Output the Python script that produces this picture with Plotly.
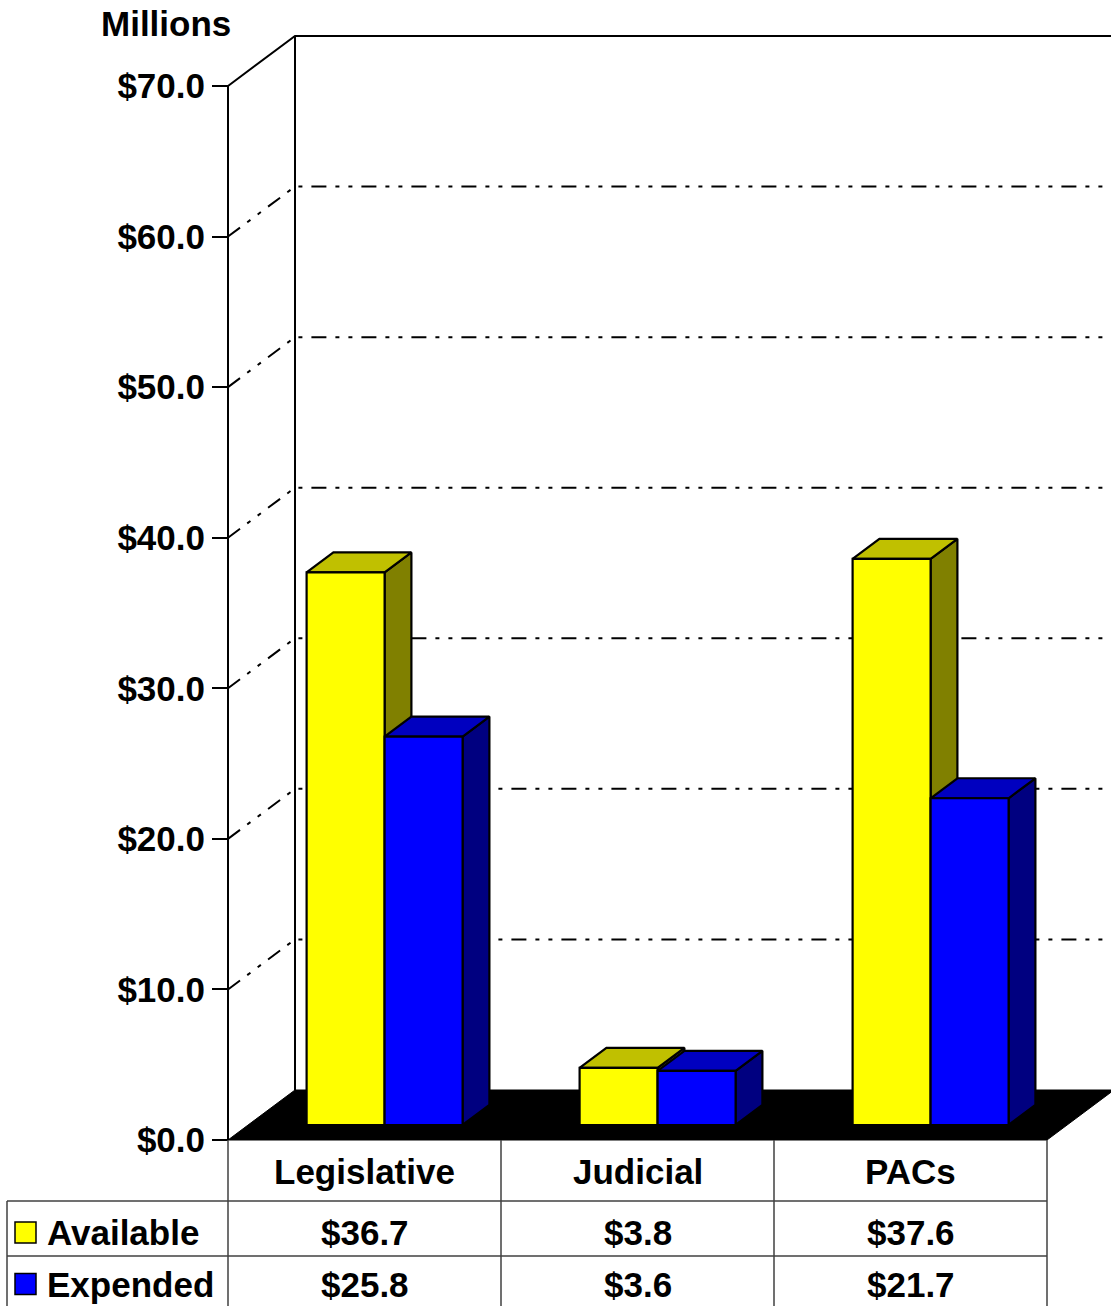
import plotly.graph_objects as go

# ---------------- data ----------------
categories = ["Legislative", "Judicial", "PACs"]
available = [36.7, 3.8, 37.6]
expended = [25.8, 3.6, 21.7]
series_names = ["Available", "Expended"]
y_tick_vals = [0, 10, 20, 30, 40, 50, 60, 70]
y_tick_text = ["$0.0", "$10.0", "$20.0", "$30.0", "$40.0", "$50.0", "$60.0", "$70.0"]
y_unit_label = "Millions"

# ---------------- styling / layout constants ----------------
W, H = 1111, 1306
FONT = "Liberation Sans, Arial, sans-serif"
front_colors = ["#FFFF00", "#0000FF"]
top_colors = ["#C0C000", "#0000C0"]
side_colors = ["#808000", "#000080"]

X0_PX, Y0_PX = 228, 1140          # pixel of (x=0, y=0) front corner
ML = 200                           # left margin (plot area starts here)
PX_PER_CAT = 273.0                 # pixels per category slot
PX_PER_UNIT = (1140 - 86) / 70.0   # pixels per $1M
DEPTH_PX = (67, 50)                # 3D depth offset in pixels (right, up)


def xd(px):
    return (px - X0_PX) / PX_PER_CAT


def yd(py):
    return (Y0_PX - py) / PX_PER_UNIT


def xp(px):  # paper x
    return (px - ML) / (W - ML)


DX = DEPTH_PX[0] / PX_PER_CAT
DY = DEPTH_PX[1] / PX_PER_UNIT
XMIN, XMAX = xd(ML), xd(W)
YMIN, YMAX = yd(H), yd(0)
BAR_W = 78 / PX_PER_CAT
Z0, Z1 = 0.3, 0.7   # bar depth span (fraction of floor depth)

fig = go.Figure()


def poly(xs, ys, fill, lw=2.2, color="black"):
    fig.add_trace(go.Scatter(
        x=list(xs) + [xs[0]], y=list(ys) + [ys[0]], mode="lines",
        fill="toself", fillcolor=fill, line=dict(color=color, width=lw),
        hoverinfo="skip", showlegend=False))


def line(xs, ys, width=2, dash="solid", color="black"):
    fig.add_trace(go.Scatter(
        x=xs, y=ys, mode="lines", line=dict(color=color, width=width, dash=dash),
        hoverinfo="skip", showlegend=False))


# floor
n = len(categories)
poly([0, n, n + DX, DX], [0, 0, DY, DY], "black", lw=1)

# gridlines (side wall diagonal + back wall)
grid_dash = "15px,9px,4px,9px,4px,9px"
for v in y_tick_vals[1:-1]:
    line([0, DX, XMAX + 0.1], [v, v + DY, v + DY], width=2, dash=grid_dash)

# walls / frame
top = y_tick_vals[-1]
line([0, 0], [0, top], width=2)
line([DX, DX], [DY, top + DY], width=2)
line([0, DX, XMAX + 0.1], [top, top + DY, top + DY], width=2)

# bars (3D boxes)
dzx, dzy = (Z1 - Z0) * DX, (Z1 - Z0) * DY
base = Z0 * DY
for i in range(n):
    center = i + 0.5 + Z0 * DX
    for s, vals in enumerate([available, expended]):
        xl = center - BAR_W + s * BAR_W
        xr = xl + BAR_W
        yt = base + vals[i]
        # side
        poly([xr, xr + dzx, xr + dzx, xr], [base, base + dzy, yt + dzy, yt], side_colors[s])
        # top
        poly([xl, xr, xr + dzx, xl + dzx], [yt, yt, yt + dzy, yt + dzy], top_colors[s])
        # front
        poly([xl, xr, xr, xl], [base, base, yt, yt], front_colors[s])

# ---------------- data table ----------------
row_bounds_px = [1140, 1201, 1256, 1304]
tcol = "#404040"
shapes = []
for i in range(0, n + 1):
    shapes.append(dict(type="line", xref="x", yref="y", x0=i, x1=i, y0=0, y1=YMIN,
                       line=dict(color=tcol, width=1.5)))
for py in row_bounds_px[1:3]:
    shapes.append(dict(type="line", xref="paper", yref="y", x0=xp(7), x1=xp(X0_PX + n * PX_PER_CAT),
                       y0=yd(py), y1=yd(py), line=dict(color=tcol, width=1.5)))
shapes.append(dict(type="line", xref="paper", yref="y", x0=xp(7), x1=xp(7),
                   y0=yd(row_bounds_px[1]), y1=YMIN, line=dict(color=tcol, width=1.5)))

annotations = []
big = dict(family=FONT, size=35, color="black", weight="bold")
hdr_y = yd((row_bounds_px[0] + row_bounds_px[1]) / 2 + 1)
for i, c in enumerate(categories):
    annotations.append(dict(x=i + 0.5, y=hdr_y, xref="x", yref="y", text=c, showarrow=False,
                            font=big, xanchor="center", yanchor="middle"))
for r, vals in enumerate([available, expended]):
    mid_px = (row_bounds_px[r + 1] + row_bounds_px[r + 2]) / 2 + 4
    ry = yd(mid_px)
    for i, v in enumerate(vals):
        annotations.append(dict(x=i + 0.5, y=ry, xref="x", yref="y", text=f"${v:.1f}",
                                showarrow=False, font=big, xanchor="center", yanchor="middle"))
    annotations.append(dict(x=xp(45), y=ry, xref="paper", yref="y", text=series_names[r],
                            showarrow=False, font=big, xanchor="left", yanchor="middle"))
    half = 10.5 / PX_PER_UNIT
    shapes.append(dict(type="rect", xref="paper", yref="y", x0=xp(15), x1=xp(36),
                       y0=ry - half, y1=ry + half, fillcolor=front_colors[r],
                       line=dict(color="black", width=1.5)))

annotations.append(dict(x=xp(166), y=1 - 23 / H, xref="paper", yref="paper", text=y_unit_label,
                        showarrow=False, font=big, xanchor="center", yanchor="middle"))

fig.update_layout(
    width=W, height=H, margin=dict(l=ML, r=0, t=0, b=0),
    plot_bgcolor="white", paper_bgcolor="white",
    shapes=shapes, annotations=annotations, showlegend=False,
    xaxis=dict(range=[XMIN, XMAX], visible=False, fixedrange=True),
    yaxis=dict(range=[YMIN, YMAX], tickvals=y_tick_vals, ticktext=y_tick_text,
               anchor="free", position=xp(X0_PX),
               ticks="outside", ticklen=16, tickwidth=2, tickcolor="black",
               showgrid=False, zeroline=False, showline=False, automargin=False,
               tickfont=big, ticklabelstandoff=0, fixedrange=True),
)

fig.write_html("out.html", config={"displayModeBar": False},
               post_script="document.body.style.margin='0';document.body.style.overflow='hidden';")
